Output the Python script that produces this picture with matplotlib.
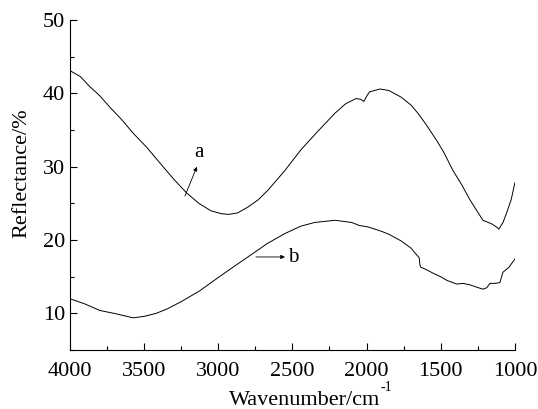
import numpy as np
import matplotlib
matplotlib.use("Agg")
import matplotlib.pyplot as plt
from matplotlib.ticker import MultipleLocator

plt.rcParams['font.family'] = ['Liberation Serif', 'DejaVu Serif']

# curve a: wavenumber (cm-1), reflectance (%)
wn_a = [4000, 3930, 3865, 3800, 3730, 3650, 3575, 3480, 3393, 3300, 3212, 3130,
        3050, 2980, 2930, 2870, 2800, 2730, 2665, 2550, 2443, 2330, 2213, 2140,
        2071, 2040, 2018, 2000, 1980, 1910, 1850, 1768, 1700, 1654, 1600, 1528,
        1480, 1418, 1360, 1303, 1250, 1215, 1155, 1125, 1108, 1080, 1054, 1025, 1000]
ref_a = [43.1, 42.3, 40.9, 39.7, 38.1, 36.4, 34.6, 32.6, 30.5, 28.3, 26.4, 25.0,
         24.0, 23.6, 23.5, 23.7, 24.5, 25.5, 26.8, 29.5, 32.3, 34.8, 37.3, 38.6,
         39.3, 39.2, 38.9, 39.6, 40.2, 40.6, 40.4, 39.5, 38.4, 37.3, 35.8, 33.6,
         32.0, 29.5, 27.6, 25.5, 23.8, 22.7, 22.2, 21.8, 21.5, 22.4, 23.8, 25.5, 27.8]

# curve b
wn_b = [4000, 3900, 3798, 3700, 3573, 3500, 3420, 3346, 3250, 3124, 3000, 2901,
        2800, 2672, 2550, 2443, 2350, 2213, 2100, 2050, 1991, 1900, 1850, 1768,
        1700, 1667, 1645, 1640, 1634, 1600, 1553, 1500, 1458, 1391, 1350, 1303,
        1260, 1215, 1190, 1168, 1130, 1101, 1081, 1040, 1000]
ref_b = [12.0, 11.3, 10.4, 10.0, 9.4, 9.6, 10.0, 10.6, 11.6, 13.1, 14.9, 16.3,
         17.7, 19.5, 20.9, 21.9, 22.4, 22.7, 22.4, 22.0, 21.8, 21.2, 20.8, 19.9,
         18.9, 18.1, 17.6, 16.6, 16.3, 16.0, 15.5, 15.0, 14.5, 14.0, 14.1, 13.9,
         13.6, 13.3, 13.5, 14.1, 14.1, 14.2, 15.6, 16.3, 17.4]

fig = plt.figure(figsize=(5.38, 4.09), dpi=100)
ax = fig.add_axes([0.130, 0.144, 0.827, 0.807])

ax.plot(wn_a, ref_a, color='black', lw=0.7)
ax.plot(wn_b, ref_b, color='black', lw=0.7)

ax.set_xlim(4000, 1000)
ax.set_ylim(5, 50)
ax.xaxis.set_major_locator(MultipleLocator(500))
ax.xaxis.set_minor_locator(MultipleLocator(250))
ax.yaxis.set_major_locator(MultipleLocator(10))
ax.yaxis.set_minor_locator(MultipleLocator(5))
ax.tick_params(which='both', direction='in', labelsize=16, width=0.8)
ax.tick_params(which='major', length=5)
ax.tick_params(which='minor', length=3)
ax.tick_params(axis='x', which='major', pad=8.5)
ax.spines['top'].set_visible(False)
ax.spines['right'].set_visible(False)

ax.set_ylabel('Reflectance/%', fontsize=16)
ax.yaxis.set_label_coords(-0.087, 0.536)
ax.text(0.528, -0.166, 'Wavenumber/cm', transform=ax.transAxes, fontsize=16,
        ha='center', va='baseline')
ax.text(0.712, -0.112, '-1', transform=ax.transAxes, fontsize=10,
        ha='center', va='center')

# curve labels with arrows
ax.annotate('', xy=(3144, 30.0), xytext=(3225, 26.0),
            arrowprops=dict(arrowstyle='-|>', color='black', lw=0.6,
                            mutation_scale=6, shrinkA=0, shrinkB=0))
ax.text(3130, 31.9, 'a', fontsize=15, ha='center', va='center')
ax.annotate('', xy=(2550, 17.7), xytext=(2746, 17.7),
            arrowprops=dict(arrowstyle='-|>', color='black', lw=0.6,
                            mutation_scale=6, shrinkA=0, shrinkB=0))
ax.text(2495, 17.6, 'b', fontsize=15, ha='center', va='center')

fig.savefig('out.png', dpi=100)
